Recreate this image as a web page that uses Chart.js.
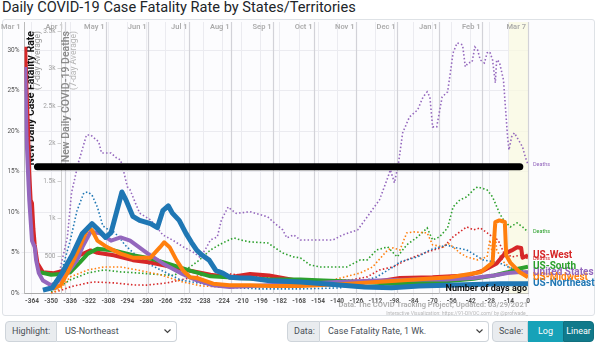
<!DOCTYPE html>
<html><head><meta charset="utf-8">
<script src="https://cdn.jsdelivr.net/npm/chart.js@4.4.1/dist/chart.umd.min.js"></script>
<style>
html,body{margin:0;padding:0;width:600px;height:344px;overflow:hidden;background:#fff;font-family:Roboto,"Open Sans",sans-serif;}
#title{position:absolute;left:2px;top:-2px;font-size:14.6px;color:#212529;white-space:nowrap;}
#panel{position:absolute;left:2px;top:19px;width:593px;height:297px;border:1px solid #dee2e6;border-radius:3px;background:#fcfcfe;box-sizing:border-box;}
#cv{position:absolute;left:0;top:0;}
.lab,.sel,.btn{position:absolute;top:321px;height:21px;box-sizing:border-box;font-size:9px;line-height:19px;white-space:nowrap;}
.lab{border:1px solid #ced4da;background:#e9ecef;color:#495057;border-radius:4px 0 0 4px;padding-left:6px;}
.sel{border:1px solid #ced4da;border-left:none;background:#fff;color:#495057;border-radius:0 4px 4px 0;padding-left:8px;}
.sel svg{position:absolute;right:5px;top:7px;}
.btn{color:#fff;text-align:center;border:1px solid #17a2b8;}
</style></head>
<body>
<div id="title">Daily COVID-19 Case Fatality Rate by States/Territories</div>
<div id="panel"></div>
<canvas id="cv" width="600" height="320"></canvas>
<div class="lab" style="left:5px;width:52px;">Highlight:</div>
<div class="sel" style="left:57px;width:120px;">US-Northeast<svg width="7" height="5"><polyline points="0.5,0.5 3.5,3.5 6.5,0.5" fill="none" stroke="#444" stroke-width="1.2"/></svg></div>
<div class="lab" style="left:287px;width:33px;">Data:</div>
<div class="sel" style="left:320px;width:169px;">Case Fatality Rate, 1 Wk.<svg width="7" height="5"><polyline points="0.5,0.5 3.5,3.5 6.5,0.5" fill="none" stroke="#444" stroke-width="1.2"/></svg></div>
<div class="lab" style="left:492px;width:36px;border-radius:4px 0 0 4px;">Scale:</div>
<div class="btn" style="left:528px;width:35px;background:#17a2b8;">Log</div>
<div class="btn" style="left:563px;width:31px;background:#117a8b;border-color:#10707f;border-radius:0 4px 4px 0;">Linear</div>
<script>
// ---------- DATA ----------
const monthNames = ['Mar 1','Apr 1','May 1','Jun 1','Jul 1','Aug 1','Sep 1','Oct 1','Nov 1','Dec 1','Jan 1','Feb 1','Mar 7'];
const monthDays  = [-371,-340,-310,-279,-249,-218,-187,-157,-126,-96,-65,-34,0];
const deathTickVals   = [500,1000,1500,2000,2500,3000,3500];
const deathTickLabels = ['500','1k','1.5k','2k','2.5k','3k','3.5k'];

// Case fatality rate (%), 7-day
const westCfrDays = [-369,-368,-367,-366,-365,-364,-363,-362,-360,-356,-348,-341,-336,-329,-321,-316,-304,-290,-277,-263,-248,-233,-219,-204,-190,-167,-138,-109,-94,-70,-45,-33,-23,-17,-12,-8,-5,-4,0];
const westCfrVals = [30.4,25,20.5,14.8,11.5,11.1,8.0,6.0,3.7,2.6,2.5,2.8,3.2,4.7,5.3,5.0,4.7,4.1,3.8,3.3,2.8,2.3,2.0,2.4,2.2,1.5,1.2,1.5,1.9,2.0,2.2,2.8,3.7,4.9,5.3,5.7,5.6,4.4,4.7];

const usCfrDays = [-369,-368,-367,-366,-365,-364,-362,-361,-359,-356,-350,-346,-338,-331,-327,-321,-314,-306,-299,-292,-279,-268,-255,-243,-231,-219,-191,-167,-140,-110,-80,-60,-40,-25,-15,-8,0];
const usCfrVals = [27.9,19.2,15.2,11.5,9.0,6.5,5.7,4.1,2.5,1.6,1.0,1.3,2.5,4.1,5.7,7.6,7.4,6.5,6.9,6.5,4.9,3.7,2.5,1.6,1.0,0.8,1.0,1.2,1.4,1.6,1.7,1.7,1.9,2.2,2.5,2.6,2.6];

const neCfrDays = [-356,-349,-342,-334,-327,-320,-315,-310,-306,-302,-298,-295,-290,-285,-277,-272,-268,-264,-261,-256,-251,-247,-243,-239,-234,-229,-224,-219,-211,-204,-191,-167,-150,-120,-100,-80,-60,-40,-20,0];
const neCfrVals = [0.4,0.7,2.5,4.9,7.4,8.6,7.8,6.9,7.5,10.0,12.5,11.5,9.5,9.0,8.6,8.1,10.2,10.8,9.9,9.0,7.4,6.3,5.3,4.7,4.1,2.8,2.5,2.0,1.9,1.9,1.6,1.4,1.2,0.8,0.7,0.9,1.0,1.1,1.2,1.2];

const midwestCfrDays = [-349,-343,-338,-329,-323,-320,-316,-309,-299,-290,-277,-270,-267,-263,-258,-253,-248,-243,-231,-219,-204,-189,-167,-131,-94,-57,-35,-26,-24,-21,-17,-16,-13,-6,0];
const midwestCfrVals = [0.6,1.0,2.5,5.7,8.1,7.8,6.5,5.7,4.9,4.4,4.4,5.7,6.3,5.7,4.1,2.8,2.0,1.9,1.2,1.0,1.0,0.9,0.9,1.2,1.6,2.0,2.6,3.8,8.8,9.0,8.8,4.7,3.8,2.6,2.0];

const southCfrDays = [-358,-350,-343,-336,-329,-323,-316,-304,-290,-277,-263,-248,-233,-211,-189,-167,-150,-120,-100,-80,-60,-40,-25,-15,-8,0];
const southCfrVals = [2.6,2.3,2.4,2.6,3.8,4.9,5.5,5.3,4.7,4.3,3.6,2.8,2.1,1.9,1.7,1.7,1.6,1.4,1.2,1.3,1.5,1.8,2.2,2.6,3.0,3.3];

// New daily deaths, 7-day average
const usDeathDays = [-346,-343,-338,-335,-330,-324,-321,-315,-313,-306,-302,-299,-297,-294,-292,-288,-285,-277,-272,-268,-261,-253,-246,-241,-237,-233,-228,-225,-220,-218,-214,-208,-204,-191,-187,-180,-177,-172,-167,-153,-143,-136,-125,-118,-109,-103,-101,-98,-95,-92,-87,-81,-77,-74,-72,-70,-67,-63,-59,-57,-55,-52,-48,-46,-44,-41,-39,-37,-35,-32,-30,-28,-26,-24,-23,-21,-18,-15,-14,-12,-10,-7,-4,-2,0];
const usDeathVals = [50,353,753,1340,1740,2113,2113,2020,1873,1873,1807,1780,1647,1420,1380,1200,1070,980,873,780,713,620,553,487,580,713,753,980,1153,1120,1067,1080,1090,1020,953,847,740,780,713,713,713,780,847,1020,1247,1540,1647,1473,1740,2140,2353,2447,2620,2687,2620,2220,2220,2620,2687,2940,3207,3340,3313,3020,3073,3087,3287,3247,3113,3073,3207,3220,3113,2807,3113,3087,2847,2087,1913,2087,2140,2047,1953,1820,1720];

const neDeathDays = [-351,-343,-336,-331,-326,-323,-320,-316,-312,-308,-304,-300,-296,-288,-277,-255,-226,-197,-167,-138,-111,-99,-94,-81,-72,-59,-56,-45,-33,-21,-13,0];
const neDeathVals = [87,250,700,1100,1340,1353,1313,1150,900,850,820,750,650,513,380,180,87,60,60,73,220,353,420,487,580,647,620,580,447,407,340,287];

const midwestDeathDays = [-350,-343,-336,-323,-311,-299,-287,-270,-255,-240,-220,-190,-160,-143,-123,-114,-103,-99,-94,-89,-84,-74,-70,-62,-59,-55,-50,-45,-37,-30,-28,-26,-24,-23,-18,-13,-6,0];
const midwestDeathVals = [0,60,220,313,353,353,313,250,160,100,80,90,120,180,273,353,580,607,580,807,820,807,647,620,673,620,540,487,447,487,713,513,780,580,420,340,287,247];

const southDeathDays = [-350,-343,-336,-323,-311,-299,-287,-270,-260,-248,-241,-233,-224,-216,-211,-204,-191,-180,-172,-167,-160,-153,-133,-123,-118,-111,-103,-96,-89,-81,-74,-70,-65,-59,-55,-50,-45,-40,-37,-30,-26,-21,-18,-13,-8,-4,0];
const southDeathVals = [20,100,180,273,313,287,273,250,240,353,447,580,673,740,713,687,673,540,487,473,380,353,353,447,447,580,620,487,647,753,873,713,753,873,1153,1247,1287,1380,1420,1380,1287,1073,980,887,940,887,820];

const westDeathDays = [-350,-343,-336,-323,-319,-304,-289,-280,-265,-250,-240,-220,-200,-180,-150,-130,-118,-109,-99,-89,-76,-62,-55,-50,-45,-40,-35,-30,-26,-22,-18,-12,-4,0];
const westDeathVals = [10,40,87,140,153,140,113,110,140,200,240,260,230,200,170,180,220,313,353,447,540,620,753,820,887,847,873,807,753,713,553,487,513,460];

// annotation bar drawn across the chart (value on % axis)
const barDays = [-360,-6];
const barVals = [15.6,15.6];

const bandDays = [-14,0];

// ---------- CHART ----------
const pts = (d,v)=>d.map((x,i)=>({x:x,y:v[i]}));
const C = {red:'#d62728',green:'#2ca02c',purple:'#9467bd',orange:'#ff7f0e',blue:'#1f77b4'};
const FONT = 'Roboto, "Open Sans", sans-serif';

function cfr(label,d,v,col,w){return {label:label,data:pts(d,v),borderColor:col,backgroundColor:col,borderWidth:w,pointRadius:0,tension:0,yAxisID:'y',endLabel:label,borderJoinStyle:'round'};}
function deaths(label,d,v,col,showLbl){return {label:label,data:pts(d,v),borderColor:col,backgroundColor:col,borderWidth:1.6,borderDash:[1.5,2.2],pointRadius:0,tension:0,yAxisID:'y2',deathLabel:showLbl};}

const datasets = [
  {label:'bar',data:pts(barDays,barVals),borderColor:'#000',borderWidth:7,borderCapStyle:'round',pointRadius:0,yAxisID:'y'},
  cfr('US-Northeast',neCfrDays,neCfrVals,C.blue,5),
  cfr('US-Midwest',midwestCfrDays,midwestCfrVals,C.orange,4),
  cfr('United States',usCfrDays,usCfrVals,C.purple,4),
  cfr('US-South',southCfrDays,southCfrVals,C.green,4),
  cfr('US-West',westCfrDays,westCfrVals,C.red,4),
  deaths('NE Deaths',neDeathDays,neDeathVals,C.blue,false),
  deaths('MW Deaths',midwestDeathDays,midwestDeathVals,C.orange,true),
  deaths('South Deaths',southDeathDays,southDeathVals,C.green,true),
  deaths('West Deaths',westDeathDays,westDeathVals,C.red,true),
  deaths('US Deaths',usDeathDays,usDeathVals,C.purple,true)
];

const overlay = {
  id:'overlay',
  beforeDatasetsDraw(chart){
    const {ctx,chartArea:ca,scales:{x,y,y2}} = chart;
    ctx.save();
    // recent-days band
    const b1=x.getPixelForValue(bandDays[0]), b2=x.getPixelForValue(bandDays[1]);
    ctx.fillStyle='rgba(250,250,222,0.7)';
    ctx.fillRect(b1,ca.top,b2-b1,ca.bottom-ca.top);
    // month lines & labels
    ctx.font='600 7.5px '+FONT; ctx.textAlign='right'; ctx.textBaseline='middle';
    monthDays.forEach((d,i)=>{
      const px=Math.round(x.getPixelForValue(d))+0.5;
      if(px>=ca.left-1 && px<=ca.right+1){
        ctx.strokeStyle='#d2d2d8'; ctx.lineWidth=1.2;
        ctx.beginPath(); ctx.moveTo(px,ca.top); ctx.lineTo(px,ca.bottom); ctx.stroke();
      }
      ctx.fillStyle='#ababab';
      ctx.fillText(monthNames[i],Math.min(px,ca.right)-2,ca.top+5);
    });
    // deaths axis (inside plot)
    const ax=Math.round(x.getPixelForValue(-343))+0.5;
    ctx.strokeStyle='#cfcfcf'; ctx.lineWidth=1;
    ctx.beginPath(); ctx.moveTo(ax,ca.top); ctx.lineTo(ax,ca.bottom); ctx.stroke();
    ctx.font='6.5px '+FONT; ctx.fillStyle='#a0a0a0'; ctx.textAlign='right';
    deathTickVals.forEach((v,i)=>{
      const py=Math.round(y2.getPixelForValue(v))+0.5;
      ctx.beginPath(); ctx.moveTo(ax-4,py); ctx.lineTo(ax,py); ctx.stroke();
      ctx.fillText(deathTickLabels[i],ax-6,py);
    });
    // axis titles (rotated)
    function vtext(txt,px,font,col){
      ctx.save(); ctx.translate(px,ca.top+9); ctx.rotate(-Math.PI/2);
      ctx.font=font; ctx.fillStyle=col; ctx.textAlign='right'; ctx.textBaseline='middle';
      ctx.fillText(txt,0,0); ctx.restore();
    }
    vtext('New Daily Case Fatality Rate',ca.left+6.5,'bold 10.5px '+FONT,'#111');
    vtext('(7-day Average)',ca.left+13,'8.5px '+FONT,'#999');
    vtext('New Daily COVID-19 Deaths',ax+5,'600 10.5px '+FONT,'#8a8a8a');
    vtext('(7-day Average)',ax+12,'8.5px '+FONT,'#b5b5b5');
    ctx.restore();
  },
  afterDatasetsDraw(chart){
    const {ctx,chartArea:ca} = chart;
    ctx.save();
    ctx.textAlign='left'; ctx.textBaseline='middle';
    chart.data.datasets.forEach((ds,i)=>{
      const meta=chart.getDatasetMeta(i);
      const last=meta.data[meta.data.length-1];
      if(ds.deathLabel){
        ctx.font='5.5px '+FONT; ctx.fillStyle=ds.borderColor;
        ctx.fillText('Deaths',ca.right+5,last.y);
      }
    });
    chart.data.datasets.forEach((ds,i)=>{
      if(!ds.endLabel) return;
      const meta=chart.getDatasetMeta(i);
      const last=meta.data[meta.data.length-1];
      ctx.font='bold 10px '+FONT; ctx.fillStyle=ds.borderColor;
      ctx.fillText(ds.endLabel,ca.right+5,last.y);
    });
    ctx.textAlign='right';
    ctx.font='bold 9px '+FONT; ctx.fillStyle='#111';
    ctx.fillText('Number of days ago',ca.right-1,ca.bottom-5);
    ctx.font='bold 7.5px '+FONT; ctx.fillStyle='#b0b0b0';
    ctx.fillText('Data: The COVID Tracking Project; Updated: 03/29/2021',ca.right,ca.bottom+12);
    ctx.font='5px '+FONT; ctx.fillStyle='#b8b8b8';
    ctx.fillText('Interactive Visualization: https://91-DIVOC.com/ by @profwade_',ca.right,ca.bottom+20);
    ctx.restore();
  }
};

new Chart(document.getElementById('cv'),{
  type:'line',
  data:{datasets:datasets},
  options:{
    responsive:false,animation:false,devicePixelRatio:1,
    layout:{padding:{top:22,right:72,bottom:12.6,left:0}},
    plugins:{legend:{display:false},tooltip:{enabled:false}},
    scales:{
      x:{type:'linear',min:-369.5,max:0,
         afterFit:s=>{s.height=14;},
         ticks:{stepSize:14,includeBounds:false,autoSkip:false,maxRotation:0,padding:1,color:'#555',font:{size:6.5,weight:'bold',family:FONT}},
         grid:{color:'#ebebf0',tickLength:3},border:{color:'#aaa'}},
      y:{type:'linear',position:'left',min:0,max:33.46,
         afterFit:s=>{s.width=24.5;},
         ticks:{stepSize:5,includeBounds:false,padding:2,color:'#555',font:{size:6.5,family:FONT},callback:v=>v+'%'},
         grid:{color:'#ebebf0',tickLength:3},border:{color:'#bbb'}},
      y2:{type:'linear',position:'left',min:0,max:3619,display:false}
    }
  },
  plugins:[overlay]
});
</script>
</body></html>
